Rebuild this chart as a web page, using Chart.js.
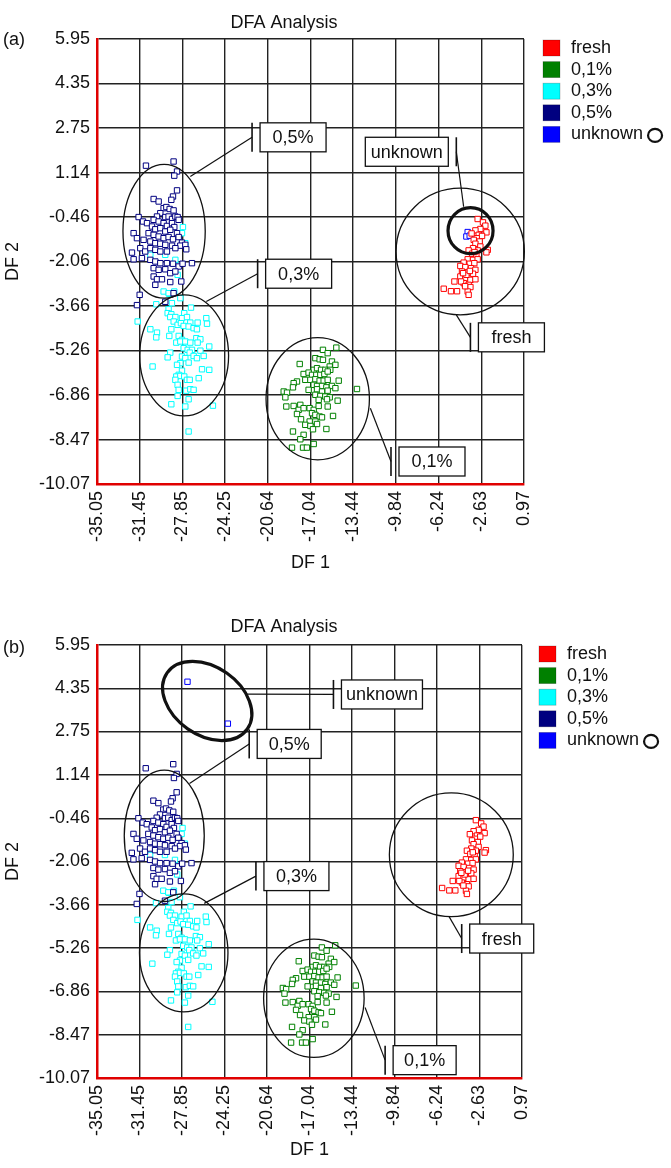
<!DOCTYPE html>
<html>
<head>
<meta charset="utf-8">
<title>DFA Analysis</title>
<script src="https://cdn.jsdelivr.net/npm/chart.js@4.4.1/dist/chart.umd.min.js"></script>
<style>
  html, body { margin: 0; padding: 0; background: #ffffff; }
  .panel { position: relative; width: 671px; height: 584px; }
  canvas { display: block; }
</style>
</head>
<body>
<div class="panel"><canvas id="chartA" width="671" height="584"></canvas></div>
<div class="panel"><canvas id="chartB" width="671" height="584"></canvas></div>
<script>
// Axis ticks (DF 1 / DF 2)
const xTickValues = [-35.05, -31.45, -27.85, -24.25, -20.64, -17.04, -13.44, -9.84, -6.24, -2.63, 0.97];
const xTickLabels = ['-35.05', '-31.45', '-27.85', '-24.25', '-20.64', '-17.04', '-13.44', '-9.84', '-6.24', '-2.63', '0.97'];
const yTickValues = [5.95, 4.35, 2.75, 1.14, -0.46, -2.06, -3.66, -5.26, -6.86, -8.47, -10.07];
const yTickLabels = ['5.95', '4.35', '2.75', '1.14', '-0.46', '-2.06', '-3.66', '-5.26', '-6.86', '-8.47', '-10.07'];

// Classes
const seriesNames = ['fresh', '0,1%', '0,3%', '0,5%', 'unknown'];
const seriesColors = ['#ff0000', '#008000', '#00ffff', '#000080', '#0000ff'];

// Training samples (same in both panels), [DF1, DF2]
const freshPoints = [
  [-2.94,-0.53],[-2.49,-0.65],[-2.29,-0.77],[-2.71,-0.89],[-2.20,-1.01],[-3.13,-0.94],[-2.85,-1.10],
  [-2.57,-1.14],[-3.02,-1.22],[-3.27,-1.28],[-2.77,-1.34],[-3.13,-1.42],[-2.71,-1.52],[-2.09,-1.64],
  [-2.20,-1.73],[-2.94,-1.66],[-3.33,-1.58],[-3.70,-1.66],[-3.41,-1.78],[-3.05,-1.86],[-3.78,-1.98],
  [-3.33,-2.00],[-2.94,-1.98],[-4.12,-2.10],[-3.61,-2.14],[-3.22,-2.12],[-4.40,-2.22],[-3.98,-2.26],
  [-3.50,-2.30],[-3.13,-2.36],[-4.26,-2.42],[-3.78,-2.46],[-3.33,-2.50],[-4.40,-2.60],[-3.98,-2.66],
  [-3.55,-2.72],[-3.13,-2.70],[-4.12,-2.84],[-3.70,-2.90],[-4.34,-2.78],[-3.55,-2.98],[-4.90,-2.78],
  [-3.78,-3.14],[-3.70,-3.26],[-5.80,-3.04],[-5.19,-3.13],[-4.68,-3.13],[-3.89,-2.54],[-4.17,-2.48],
  [-3.45,-1.05],[-3.20,-1.72],[-3.60,-2.40],[-4.00,-2.95]
];
const pct01Points = [
  [-15.99,-5.24],[-15.59,-5.36],[-14.86,-5.16],[-16.63,-5.54],[-16.27,-5.58],[-15.99,-5.60],[-15.23,-5.66],
  [-14.94,-5.78],[-15.42,-5.84],[-17.95,-5.75],[-16.77,-5.96],[-16.49,-5.90],[-16.15,-5.96],[-15.79,-5.96],
  [-15.37,-5.96],[-17.62,-6.11],[-17.20,-6.06],[-16.91,-6.14],[-16.55,-6.14],[-16.21,-6.14],[-15.87,-6.11],
  [-15.59,-6.02],[-18.18,-6.38],[-18.46,-6.44],[-17.48,-6.32],[-17.05,-6.32],[-16.63,-6.30],[-16.27,-6.35],
  [-15.93,-6.35],[-15.59,-6.32],[-14.66,-6.35],[-18.52,-6.59],[-16.77,-6.50],[-16.49,-6.54],[-16.07,-6.54],
  [-15.70,-6.59],[-15.23,-6.54],[-14.94,-6.62],[-19.30,-6.74],[-19.02,-6.78],[-19.16,-6.95],[-17.20,-6.68],
  [-16.49,-6.66],[-16.07,-6.74],[-15.59,-6.71],[-13.12,-6.65],[-16.63,-6.86],[-16.21,-6.90],[-15.79,-6.92],
  [-15.42,-6.95],[-16.35,-7.04],[-15.65,-7.02],[-14.75,-7.07],[-19.08,-7.28],[-18.46,-7.26],[-17.90,-7.22],
  [-18.04,-7.40],[-17.62,-7.34],[-17.11,-7.34],[-16.77,-7.40],[-16.35,-7.26],[-15.59,-7.28],[-18.18,-7.55],
  [-17.84,-7.74],[-16.91,-7.52],[-16.63,-7.58],[-16.27,-7.64],[-16.07,-7.67],[-15.14,-7.62],[-17.11,-7.82],
  [-16.63,-7.82],[-17.48,-7.94],[-17.05,-7.98],[-16.49,-7.91],[-16.83,-8.10],[-15.70,-8.09],[-18.52,-8.18],
  [-17.62,-8.30],[-17.90,-8.46],[-16.77,-8.63],[-18.60,-8.76],[-17.67,-8.76],[-17.34,-8.76]
];
const pct03Points = [
  [-28.53,-3.14],[-28.95,-3.22],[-28.02,-3.38],[-30.05,-3.60],[-28.73,-3.56],[-27.12,-3.72],[-29.01,-3.78],
  [-29.09,-3.92],[-28.78,-3.96],[-27.69,-3.92],[-28.87,-4.06],[-28.44,-4.06],[-27.88,-4.10],[-27.46,-4.06],
  [-25.83,-4.10],[-31.62,-4.22],[-28.58,-4.22],[-28.25,-4.34],[-27.97,-4.28],[-27.18,-4.26],[-26.56,-4.26],
  [-25.77,-4.30],[-27.74,-4.38],[-27.32,-4.40],[-26.90,-4.46],[-26.62,-4.50],[-30.55,-4.50],[-28.78,-4.50],
  [-29.99,-4.62],[-30.05,-4.79],[-28.95,-4.74],[-28.16,-4.74],[-27.88,-4.88],[-28.36,-4.98],[-28.02,-4.94],
  [-27.60,-4.94],[-27.18,-4.98],[-26.67,-4.82],[-26.33,-4.86],[-26.56,-4.98],[-25.58,-5.12],[-27.74,-5.18],
  [-27.40,-5.24],[-27.04,-5.24],[-27.23,-5.34],[-26.33,-5.27],[-28.87,-5.34],[-29.09,-5.51],[-27.88,-5.48],
  [-27.60,-5.54],[-26.90,-5.46],[-26.62,-5.54],[-26.05,-5.46],[-27.32,-5.70],[-28.02,-5.72],[-28.30,-5.78],
  [-30.36,-5.84],[-26.19,-5.94],[-25.58,-5.96],[-27.88,-5.99],[-28.16,-6.14],[-28.36,-6.20],[-28.02,-6.18],
  [-27.69,-6.20],[-28.44,-6.32],[-27.46,-6.32],[-27.23,-6.32],[-26.47,-6.26],[-28.25,-6.50],[-28.16,-6.68],
  [-27.52,-6.71],[-27.18,-6.66],[-26.90,-6.68],[-28.25,-6.90],[-27.32,-7.02],[-28.78,-7.20],[-27.60,-7.28],
  [-25.27,-7.25],[-27.32,-8.18],
  [-27.80,-0.82],[-27.88,-1.04],[-27.60,-1.40],[-30.55,-1.82],[-29.29,-1.82],[-28.44,-2.00],[-28.25,-2.54],
  [-29.43,-3.14],[-29.01,-3.20]
];
const pct05Points = [
  [-30.92,1.39],[-28.59,1.54],[-28.30,1.18],[-28.53,1.03],[-28.30,0.50],[-28.64,0.28],[-28.78,0.16],
  [-30.27,0.19],[-29.85,0.10],[-29.43,-0.14],[-29.20,-0.10],[-28.92,-0.17],[-28.59,-0.22],[-29.71,-0.32],
  [-29.99,-0.44],[-29.29,-0.46],[-29.01,-0.44],[-28.72,-0.53],[-28.44,-0.44],[-28.25,-0.46],[-31.54,-0.46],
  [-31.17,-0.62],[-30.83,-0.68],[-30.27,-0.56],[-29.85,-0.62],[-29.43,-0.68],[-29.15,-0.78],[-28.72,-0.68],
  [-28.53,-0.82],[-28.16,-0.56],[-30.41,-0.80],[-30.13,-0.90],[-29.71,-0.86],[-29.29,-0.98],[-28.87,-0.92],
  [-28.30,-1.04],[-30.70,-1.04],[-30.27,-1.10],[-29.85,-1.16],[-29.43,-1.22],[-29.01,-1.18],[-28.64,-1.26],
  [-28.16,-1.18],[-27.88,-1.38],[-31.96,-1.04],[-31.68,-1.22],[-31.12,-1.28],[-30.55,-1.34],[-30.13,-1.40],
  [-29.71,-1.42],[-29.29,-1.46],[-28.72,-1.49],[-28.02,-1.49],[-27.60,-1.46],[-27.52,-1.62],[-31.40,-1.58],
  [-30.98,-1.70],[-30.55,-1.58],[-30.13,-1.64],[-29.71,-1.70],[-29.15,-1.70],[-28.44,-1.58],[-32.10,-1.74],
  [-31.96,-1.98],[-31.26,-1.94],[-30.55,-2.00],[-30.13,-2.06],[-29.71,-2.12],[-29.15,-2.12],[-28.64,-2.14],
  [-28.16,-2.24],[-27.83,-2.14],[-27.04,-2.12],[-30.27,-2.30],[-29.85,-2.36],[-29.29,-2.34],[-28.87,-2.48],
  [-28.44,-2.42],[-30.27,-2.60],[-29.99,-2.70],[-29.57,-2.70],[-28.87,-2.80],[-27.94,-2.78],[-30.13,-2.90],
  [-29.29,-3.51],[-31.45,-3.26],[-31.68,-3.63],[-28.59,-3.20]
];

// Unknown samples
const unknownPointsA = [[-3.78,-1.00],[-3.89,-1.16],[-3.61,-1.13]];
const unknownPointsB = [[-27.38,4.59],[-23.96,3.04]];

// Group ellipses: [centre DF1, centre DF2, half-width DF1, half-height DF2, rotation deg, line width]
const ellipsesA = [
  [-29.39, -0.97, 3.47, 2.41, 0, 1.3],
  [-27.70, -5.44, 3.75, 2.18, 0, 1.3],
  [-16.43, -7.00, 4.36, 2.20, 0, 1.3],
  [-4.41, -1.70, 5.41, 2.28, 0, 1.3],
  [-3.54, -0.95, 1.90, 0.83, 0, 3.2]
];
const ellipsesB = [
  [-29.35, -1.11, 3.39, 2.43, 0, 1.3],
  [-27.70, -5.44, 3.75, 2.18, 0, 1.3],
  [-16.67, -7.12, 4.26, 2.19, 0, 1.3],
  [-5.02, -1.81, 5.25, 2.29, 0, 1.3],
  [-25.71, 3.88, 4.15, 1.26, 35, 3.2]
];

// Callouts: label, leader start (DF1, DF2), bar (DF1, DF2), box side, box width
const calloutsA = [
  ['0,5%', -27.18, 1.00, -21.97, 2.41, 'right', 66],
  ['0,3%', -25.83, -3.50, -21.50, -2.50, 'right', 66],
  ['unknown', -4.12, -0.09, -4.74, 1.89, 'left', 83],
  ['fresh', -4.74, -3.98, -3.55, -4.79, 'right', 66],
  ['0,1%', -11.99, -7.34, -10.25, -9.26, 'right', 66]
];
const calloutsB = [
  ['unknown', -22.35, 4.13, -15.01, 4.12, 'right', 81],
  ['0,5%', -27.21, 0.83, -22.15, 2.29, 'right', 64],
  ['0,3%', -25.96, -3.61, -21.58, -2.60, 'right', 65],
  ['fresh', -5.21, -4.10, -4.14, -4.91, 'right', 64],
  ['0,1%', -12.33, -7.46, -10.63, -9.41, 'right', 63]
];

const FONT = 'Liberation Sans, Arial, Helvetica, sans-serif';

function toXY(list) {
  return list.map(p => ({ x: p[0], y: p[1] }));
}

// Draw ellipses and labelled callouts on top of the points
const annotationPlugin = {
  id: 'dfaAnnotations',
  afterDatasetsDraw(chart, args, opts) {
    const ctx = chart.ctx;
    const xs = chart.scales.x, ys = chart.scales.y;
    ctx.save();
    ctx.strokeStyle = '#111';
    opts.ellipses.forEach(e => {
      const cx = xs.getPixelForValue(e[0]);
      const cy = ys.getPixelForValue(e[1]);
      const rx = Math.abs(xs.getPixelForValue(e[0] + e[2]) - cx);
      const ry = Math.abs(ys.getPixelForValue(e[1] + e[3]) - cy);
      ctx.lineWidth = e[5];
      ctx.beginPath();
      ctx.ellipse(cx, cy, rx, ry, e[4] * Math.PI / 180, 0, 2 * Math.PI);
      ctx.stroke();
    });

    const boxH = 29;
    ctx.font = '18px ' + FONT;
    ctx.textAlign = 'center';
    ctx.textBaseline = 'middle';
    opts.callouts.forEach(c => {
      const ax = xs.getPixelForValue(c[1]), ay = ys.getPixelForValue(c[2]);
      const bx = xs.getPixelForValue(c[3]), by = ys.getPixelForValue(c[4]);
      ctx.lineWidth = 1.2;
      ctx.beginPath();
      ctx.moveTo(ax, ay);
      ctx.lineTo(bx, by);
      ctx.stroke();
      ctx.lineWidth = 1.6;
      ctx.beginPath();
      ctx.moveTo(bx, by - boxH / 2);
      ctx.lineTo(bx, by + boxH / 2);
      ctx.stroke();
      const left = c[5] === 'right' ? bx + 8 : bx - 8 - c[6];
      ctx.fillStyle = '#fff';
      ctx.fillRect(left, by - boxH / 2, c[6], boxH);
      ctx.lineWidth = 1.3;
      ctx.strokeRect(left, by - boxH / 2, c[6], boxH);
      ctx.fillStyle = '#111';
      ctx.fillText(c[0], left + c[6] / 2, by + 1);
    });
    ctx.restore();
  }
};

// Title, panel letter and the side legend
const framePlugin = {
  id: 'dfaFrame',
  afterDraw(chart, args, opts) {
    const ctx = chart.ctx;
    const area = chart.chartArea;
    ctx.save();
    ctx.fillStyle = '#111';
    ctx.font = '18px ' + FONT;
    ctx.textBaseline = 'middle';
    ctx.textAlign = 'center';
    ctx.fillText('DFA Analysis', 284, area.top - opts.titleGap);
    ctx.textAlign = 'left';
    ctx.fillText(opts.panel, 3, area.top + opts.panelDy);

    const lx = area.right + opts.legendDx;
    seriesNames.forEach((name, i) => {
      const top = area.top + 1 + i * 21.6;
      ctx.fillStyle = seriesColors[i];
      ctx.fillRect(lx, top, 17, 16);
      ctx.strokeStyle = 'rgba(0,0,0,0.25)';
      ctx.lineWidth = 0.8;
      ctx.strokeRect(lx, top, 17, 16);
      ctx.fillStyle = '#111';
      const tx = lx + 28;
      ctx.fillText(name, tx, top + 8);
      if (name === 'unknown') {
        const w = ctx.measureText(name).width;
        ctx.strokeStyle = '#111';
        ctx.lineWidth = 2.2;
        ctx.beginPath();
        ctx.ellipse(tx + w + 12, top + 9, 7, 6.5, 0, 0, 2 * Math.PI);
        ctx.stroke();
      }
    });
    ctx.restore();
  }
};

function makeDataset(label, points, color) {
  return {
    label: label,
    data: toXY(points),
    pointStyle: 'rect',
    pointRadius: 3.8,
    borderWidth: 1,
    borderColor: color,
    backgroundColor: '#ffffff',
    showLine: false
  };
}

function makeChart(canvasId, cfg) {
  const datasets = [
    makeDataset('0,5%', pct05Points, seriesColors[3]),
    makeDataset('0,3%', pct03Points, seriesColors[2]),
    makeDataset('0,1%', pct01Points, seriesColors[1]),
    makeDataset('fresh', freshPoints, seriesColors[0]),
    makeDataset('unknown', cfg.unknown, seriesColors[4])
  ];
  return new Chart(document.getElementById(canvasId), {
    type: 'scatter',
    data: { datasets: datasets },
    options: {
      responsive: false,
      animation: false,
      devicePixelRatio: 1,
      events: [],
      layout: { padding: cfg.padding },
      plugins: {
        legend: { display: false },
        tooltip: { enabled: false },
        dfaAnnotations: { ellipses: cfg.ellipses, callouts: cfg.callouts },
        dfaFrame: { panel: cfg.panel, titleGap: cfg.titleGap, panelDy: cfg.panelDy, legendDx: cfg.legendDx }
      },
      scales: {
        x: {
          type: 'linear',
          min: xTickValues[0],
          max: xTickValues[xTickValues.length - 1],
          afterBuildTicks: scale => {
            scale.ticks = xTickValues.map(v => ({ value: v }));
          },
          afterFit: scale => { scale.height = cfg.xHeight; },
          ticks: {
            autoSkip: false,
            minRotation: 90,
            maxRotation: 90,
            padding: 7,
            color: '#111',
            font: { family: FONT, size: 18 },
            callback: value => xTickLabels[xTickValues.indexOf(value)]
          },
          grid: { color: '#222', lineWidth: 1.4, drawTicks: false },
          border: { color: '#e00000', width: 2.5 },
          title: { display: true, text: 'DF 1', color: '#111', font: { family: FONT, size: 18 }, padding: { top: 4, bottom: 4 } }
        },
        y: {
          type: 'linear',
          min: yTickValues[yTickValues.length - 1],
          max: yTickValues[0],
          afterBuildTicks: scale => {
            scale.ticks = yTickValues.slice().reverse().map(v => ({ value: v }));
          },
          afterFit: scale => { scale.width = 97; },
          ticks: {
            padding: 7,
            color: '#111',
            font: { family: FONT, size: 18 },
            callback: value => yTickLabels[yTickValues.indexOf(value)]
          },
          grid: { color: '#222', lineWidth: 1.4, drawTicks: false },
          border: { color: '#e00000', width: 2.5 },
          title: { display: true, text: 'DF 2', color: '#111', font: { family: FONT, size: 18 }, padding: { top: 2, bottom: 2 } }
        }
      }
    },
    plugins: [annotationPlugin, framePlugin]
  });
}

makeChart('chartA', {
  panel: '(a)',
  unknown: unknownPointsA,
  ellipses: ellipsesA,
  callouts: calloutsA,
  padding: { top: 39, right: 147, bottom: 6, left: 0 },
  xHeight: 94,
  titleGap: 16,
  panelDy: 1,
  legendDx: 19
});

makeChart('chartB', {
  panel: '(b)',
  unknown: unknownPointsB,
  ellipses: ellipsesB,
  callouts: calloutsB,
  padding: { top: 61, right: 149, bottom: 3, left: 0 },
  xHeight: 87,
  titleGap: 18,
  panelDy: 3,
  legendDx: 17
});
</script>
</body>
</html>
